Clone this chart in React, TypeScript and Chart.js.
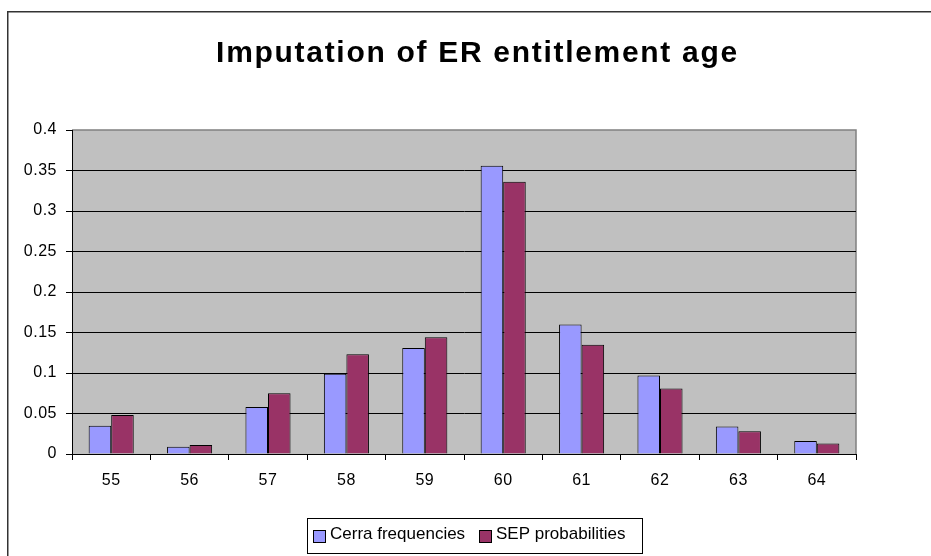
import React, { useEffect, useRef } from "react";
import { Chart, registerables } from "chart.js";

Chart.register(...registerables);

const TITLE = "Imputation of ER entitlement age";
const AGES = ["55", "56", "57", "58", "59", "60", "61", "62", "63", "64"];
const CERRA_FREQUENCIES = [0.035, 0.009, 0.058, 0.099, 0.131, 0.356, 0.16, 0.097, 0.034, 0.016];
const SEP_PROBABILITIES = [0.048, 0.011, 0.075, 0.123, 0.144, 0.336, 0.135, 0.081, 0.028, 0.013];
const SERIES_NAMES = ["Cerra frequencies", "SEP probabilities"];
const SERIES_COLORS = ["#9999FF", "#993366"];
const Y_MIN = 0;
const Y_MAX = 0.4;
const Y_STEP = 0.05;

const FONT = "'Liberation Sans', Arial, sans-serif";

const decorPlugin = {
  id: "decor",
  beforeDraw(chart: any) {
    const ctx = chart.ctx;
    const a = chart.chartArea;
    ctx.save();
    ctx.fillStyle = "#ffffff";
    ctx.fillRect(0, 0, chart.width, chart.height);
    // outer frame
    ctx.strokeStyle = "#333333";
    ctx.lineWidth = 1.5;
    ctx.strokeRect(7.75, 11.75, chart.width + 20, chart.height + 20);
    // plot background
    ctx.fillStyle = "#C0C0C0";
    ctx.fillRect(a.left, a.top, a.right - a.left, a.bottom - a.top);
    ctx.strokeStyle = "#808080";
    ctx.lineWidth = 1.5;
    ctx.beginPath();
    ctx.moveTo(a.left, a.top);
    ctx.lineTo(a.right, a.top);
    ctx.lineTo(a.right, a.bottom);
    ctx.stroke();
    ctx.restore();
    (ctx as any).letterSpacing = "0.5px";
  },
  afterDraw(chart: any) {
    const ctx = chart.ctx;
    ctx.save();
    // title
    (ctx as any).letterSpacing = "1.7px";
    ctx.font = `bold 30px ${FONT}`;
    ctx.fillStyle = "#000";
    ctx.textAlign = "center";
    ctx.textBaseline = "alphabetic";
    ctx.fillText(TITLE, 477.5, 62);
    // legend
    (ctx as any).letterSpacing = "0px";
    ctx.strokeStyle = "#000";
    ctx.lineWidth = 1;
    ctx.strokeRect(307.5, 518.5, 335, 35);
    ctx.font = `17px ${FONT}`;
    ctx.textAlign = "left";
    ctx.textBaseline = "middle";
    const xs = [313, 479];
    chart.data.datasets.forEach((ds: any, i: number) => {
      const x = xs[i];
      ctx.fillStyle = ds.backgroundColor;
      ctx.fillRect(x + 0.5, 530.5, 12, 12);
      ctx.strokeRect(x + 0.5, 530.5, 12, 12);
      ctx.fillStyle = "#000";
      ctx.fillText(ds.label, x + 17, 534.5);
    });
    ctx.restore();
  },
};

export default function App() {
  const ref = useRef<HTMLCanvasElement>(null);
  useEffect(() => {
    if (!ref.current) return;
    const chart = new Chart(ref.current, {
      type: "bar",
      data: {
        labels: AGES,
        datasets: [
          {
            label: SERIES_NAMES[0],
            data: CERRA_FREQUENCIES,
            backgroundColor: SERIES_COLORS[0],
            borderColor: "#000",
            borderWidth: 1,
            categoryPercentage: 0.575,
            barPercentage: 1,
          },
          {
            label: SERIES_NAMES[1],
            data: SEP_PROBABILITIES,
            backgroundColor: SERIES_COLORS[1],
            borderColor: "#000",
            borderWidth: 1,
            categoryPercentage: 0.575,
            barPercentage: 1,
          },
        ],
      },
      options: {
        responsive: false,
        animation: false,
        layout: { padding: { top: 130, left: 0, right: 75, bottom: 62 } },
        plugins: {
          legend: { display: false },
          title: { display: false },
          tooltip: { enabled: false },
        },
        scales: {
          x: {
            grid: {
              offset: true,
              drawOnChartArea: false,
              color: "#000",
              tickLength: 6,
            },
            border: { color: "#000", width: 1 },
            ticks: {
              color: "#000",
              font: { family: FONT, size: 16 },
              padding: 11,
              maxRotation: 0,
            },
            afterFit(scale: any) {
              scale.height = 40;
            },
          },
          y: {
            min: Y_MIN,
            max: Y_MAX,
            grid: {
              color: (c: any) => (c.tick && Math.abs(c.tick.value - Y_MAX) < 1e-9 ? "rgba(0,0,0,0)" : "#000"),
              tickColor: "#000",
              tickLength: 6,
              lineWidth: 1,
            },
            border: { color: "#000", width: 1 },
            ticks: {
              stepSize: Y_STEP,
              color: "#000",
              font: { family: FONT, size: 16 },
              padding: 9,
              callback: (v: any) => String(Number(Number(v).toFixed(2))),
            },
            afterFit(scale: any) {
              scale.width = 72;
            },
          },
        },
      },
      plugins: [decorPlugin],
    });
    return () => chart.destroy();
  }, []);
  return (
    <div style={{ position: "fixed", left: 0, top: 0, width: 931, height: 556 }}>
      <canvas ref={ref} width={931} height={556} style={{ width: 931, height: 556, display: "block" }} />
    </div>
  );
}
